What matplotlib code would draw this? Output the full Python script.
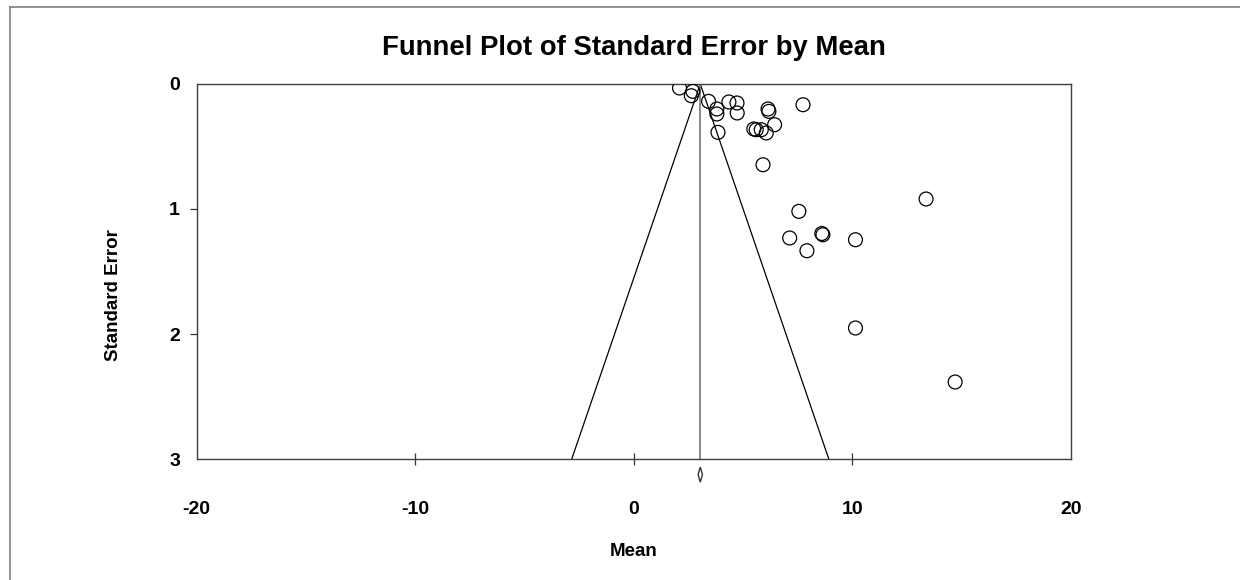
import numpy as np
import matplotlib.pyplot as plt
from matplotlib.lines import Line2D

plt.rcParams['font.family'] = ['Liberation Sans', 'DejaVu Sans']
plt.rcParams['font.weight'] = 'bold'
plt.rcParams['axes.unicode_minus'] = False

# study estimates
means = [2.09, 2.70, 2.63, 3.42, 3.80, 3.80, 4.35, 4.72, 4.73, 3.85,
         6.14, 6.18, 6.44, 5.49, 5.60, 5.83, 6.06, 7.74, 5.91, 7.55,
         7.13, 8.60, 8.65, 7.92, 10.14, 13.37, 10.14, 14.70]
std_errs = [0.032, 0.059, 0.094, 0.139, 0.200, 0.240, 0.144, 0.152, 0.232, 0.387,
            0.200, 0.219, 0.326, 0.360, 0.366, 0.366, 0.392, 0.166, 0.646, 1.019,
            1.232, 1.196, 1.206, 1.334, 1.246, 0.920, 1.952, 2.384]

pooled_mean = 3.04
pooled_halfwidth = 0.10
se_max = 3.0
x_ticks = [-20, -10, 0, 10, 20]
y_ticks = [0, 1, 2, 3]

fig = plt.figure(figsize=(12.4, 5.8), dpi=100)
ax = fig.add_axes([0.1586, 0.2086, 0.7051, 0.6466])

# funnel
ax.plot([pooled_mean - 1.96 * se_max, pooled_mean, pooled_mean + 1.96 * se_max],
        [se_max, 0, se_max], color='black', lw=0.9, zorder=2)
ax.plot([pooled_mean, pooled_mean], [0, se_max], color='#808080', lw=1.3, zorder=2)

ax.scatter(means, std_errs, s=100, facecolors='none', edgecolors='black',
           linewidths=0.9, zorder=3)

# summary diamond under the axis
dy = 0.06
yc = 3.125
ax.fill([pooled_mean - pooled_halfwidth, pooled_mean, pooled_mean + pooled_halfwidth, pooled_mean],
        [yc, yc - dy, yc, yc + dy], facecolor='white', edgecolor='#333333',
        lw=1.0, clip_on=False, zorder=4)

ax.set_xlim(-20, 20)
ax.set_ylim(3, 0)
ax.set_xticks(x_ticks)
ax.set_yticks(y_ticks)
ax.tick_params(axis='x', direction='inout', length=8, width=0.9, pad=26,
               labelsize=14, color='#333333')
ax.tick_params(axis='y', direction='out', length=5, width=0.9, pad=7,
               labelsize=14, color='#333333')
# no tick marks at the corners
for t in (ax.xaxis.get_major_ticks()[0], ax.xaxis.get_major_ticks()[-1],
          ax.yaxis.get_major_ticks()[0], ax.yaxis.get_major_ticks()[-1]):
    t.tick1line.set_visible(False)
for s in ax.spines.values():
    s.set_color('#404040')
    s.set_linewidth(1.0)

ax.set_title('Funnel Plot of Standard Error by Mean', fontsize=19.8,
             fontweight='bold', y=1.0552, va='baseline')
ax.set_xlabel('Mean', fontsize=13.5, fontweight='bold')
ax.xaxis.label.set_va('center')
ax.xaxis.set_label_coords(0.5, -0.247)
ax.set_ylabel('Standard Error', fontsize=13.5, fontweight='bold')
ax.yaxis.label.set_va('center')
ax.yaxis.set_label_coords(-0.0946, 0.437)

# outer frame of the exported chart
fig.add_artist(Line2D([10 / 1240, 1.0], [1 - 7 / 580, 1 - 7 / 580],
                      transform=fig.transFigure, color='#808080', lw=1.2))
fig.add_artist(Line2D([10 / 1240, 10 / 1240], [1 - 7 / 580, 0.0],
                      transform=fig.transFigure, color='#808080', lw=1.2))

fig.savefig('out.png', dpi=100)
